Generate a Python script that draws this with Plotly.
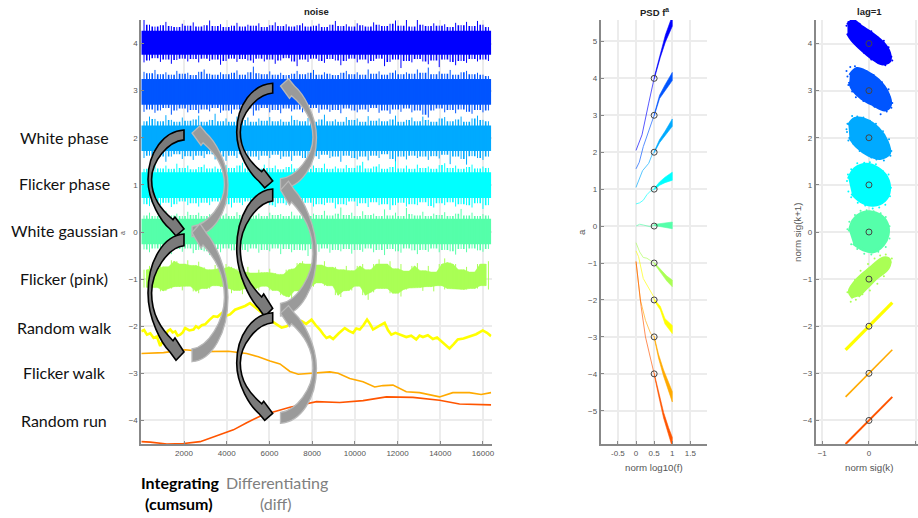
import plotly.graph_objects as go

W, H = 918, 518
level_colors = ["#0000ff", "#0055ff", "#00aaff", "#00ffff", "#55ffaa", "#aaff55", "#ffff00", "#ffaa00", "#ff5500"]
levels = [4, 3, 2, 1, 0, -1, -2, -3, -4]
time_ticks = [2000, 4000, 6000, 8000, 10000, 12000, 14000, 16000]
noise_names = ["White phase", "Flicker phase", "White gaussian", "Flicker (pink)", "Random walk", "Flicker walk", "Random run"]

# noise traces: solid core of each band and per-bin extremes
core_hi = [4.27, 3.25, 2.26, 1.27, 0.28]
core_lo = [3.76, 2.70, 1.72, 0.72, -0.26]
n4_up = [4.53,4.40,4.36,4.39,4.46,4.37,4.35,4.42,4.38,4.45,4.36,4.39,4.49,4.37,4.41,4.35,4.38,4.44,4.36,4.40,4.38,4.43,4.35,4.39,4.45,4.37,4.41,4.36,4.39,4.43,4.36,4.38,4.42,4.35,4.40,4.48,4.37,4.41,4.36,4.43,4.39,4.36,4.45,4.40,4.37,4.42,4.49,4.38,4.52,4.36,4.53,4.40,4.37,4.43,4.38,4.41,4.35,4.44,4.39,4.46,4.37,4.48,4.40,4.35]
n4_lo = [3.60,3.64,3.69,3.61,3.66,3.57,3.65,3.68,3.62,3.67,3.60,3.68,3.63,3.66,3.55,3.63,3.68,3.61,3.67,3.64,3.59,3.68,3.62,3.66,3.57,3.64,3.69,3.62,3.52,3.66,3.61,3.68,3.63,3.59,3.67,3.64,3.54,3.63,3.68,3.60,3.66,3.58,3.63,3.68,3.52,3.61,3.66,3.48,3.63,3.60,3.67,3.62,3.56,3.64,3.50,3.66,3.61,3.54,3.63,3.59,3.67,3.62,3.66,3.63]
n3_up = [3.40,3.37,3.44,3.35,3.39,3.34,3.42,3.36,3.38,3.33,3.40,3.45,3.36,3.34,3.39,3.35,3.38,3.43,3.34,3.39,3.51,3.37,3.35,3.41,3.34,3.38,3.33,3.36,3.42,3.35,3.38,3.44,3.34,3.39,3.36,3.33,3.38,3.42,3.35,3.39,3.34,3.45,3.36,3.41,3.34,3.38,3.43,3.35,3.39,3.36,3.45,3.38,3.49,3.35,3.41,3.36,3.44,3.34,3.39,3.42,3.35,3.38,3.34,3.31]
n3_lo = [2.55,2.60,2.53,2.58,2.63,2.49,2.58,2.62,2.54,2.59,2.52,2.60,2.56,2.63,2.53,2.58,2.51,2.60,2.55,2.62,2.47,2.58,2.63,2.54,2.59,2.52,2.62,2.56,2.60,2.54,2.58,2.63,2.53,2.60,2.55,2.59,2.52,2.62,2.58,2.54,2.60,2.55,2.63,2.53,2.58,2.51,2.60,2.55,2.62,2.54,2.58,2.49,2.43,2.58,2.62,2.54,2.59,2.52,2.60,2.55,2.51,2.59,2.54,2.58]
n2_up = [2.35,2.45,2.40,2.35,2.48,2.38,2.34,2.43,2.36,2.39,2.47,2.34,2.38,2.51,2.35,2.41,2.34,2.45,2.38,2.43,2.34,2.41,2.36,2.44,2.35,2.39,2.34,2.47,2.38,2.35,2.42,2.34,2.39,2.49,2.35,2.39,2.34,2.44,2.38,2.41,2.34,2.46,2.36,2.41,2.35,2.39,2.47,2.34,2.38,2.43,2.35,2.45,2.38,2.34,2.41,2.44,2.35,2.39,2.45,2.34,2.41,2.47,2.38,2.35]
n2_lo = [1.57,1.62,1.55,1.60,1.49,1.60,1.65,1.55,1.61,1.53,1.62,1.57,1.65,1.54,1.60,1.51,1.62,1.57,1.65,1.55,1.60,1.53,1.62,1.57,1.64,1.55,1.60,1.51,1.62,1.57,1.53,1.61,1.55,1.64,1.57,1.60,1.49,1.62,1.57,1.54,1.60,1.52,1.62,1.57,1.65,1.55,1.47,1.60,1.54,1.62,1.57,1.60,1.53,1.61,1.56,1.64,1.44,1.60,1.55,1.43,1.61,1.57,1.53,1.60]
n1_up = [1.34,1.39,1.43,1.35,1.41,1.34,1.45,1.36,1.41,1.33,1.38,1.43,1.35,1.39,1.34,1.42,1.36,1.41,1.47,1.35,1.39,1.34,1.43,1.36,1.41,1.33,1.38,1.44,1.35,1.39,1.34,1.41,1.36,1.45,1.34,1.39,1.35,1.42,1.36,1.41,1.49,1.35,1.39,1.44,1.34,1.38,1.50,1.35,1.41,1.34,1.43,1.36,1.39,1.34,1.42,1.46,1.36,1.41,1.34,1.38,1.43,1.35,1.39,1.36]
n1_lo = [0.59,0.55,0.63,0.57,0.62,0.53,0.59,0.65,0.57,0.61,0.54,0.62,0.57,0.65,0.55,0.59,0.52,0.62,0.57,0.65,0.55,0.59,0.63,0.57,0.53,0.61,0.57,0.65,0.55,0.59,0.62,0.54,0.59,0.57,0.62,0.50,0.59,0.57,0.65,0.55,0.61,0.53,0.63,0.57,0.59,0.47,0.57,0.62,0.54,0.59,0.57,0.63,0.55,0.52,0.61,0.57,0.63,0.54,0.59,0.57,0.52,0.61,0.49,0.57]
n0_up = [0.35,0.41,0.34,0.38,0.45,0.35,0.39,0.34,0.43,0.36,0.41,0.34,0.38,0.44,0.35,0.39,0.34,0.42,0.36,0.47,0.35,0.39,0.34,0.41,0.36,0.38,0.34,0.43,0.35,0.41,0.34,0.39,0.36,0.45,0.35,0.39,0.52,0.36,0.41,0.34,0.44,0.36,0.39,0.34,0.48,0.35,0.41,0.34,0.51,0.38,0.35,0.43,0.34,0.39,0.36,0.42,0.34,0.39,0.49,0.35,0.41,0.34,0.38,0.35]
n0_lo = [-0.37,-0.43,-0.35,-0.41,-0.38,-0.47,-0.36,-0.42,-0.35,-0.45,-0.38,-0.41,-0.49,-0.36,-0.43,-0.35,-0.39,-0.46,-0.38,-0.42,-0.35,-0.44,-0.38,-0.41,-0.35,-0.47,-0.36,-0.43,-0.38,-0.39,-0.51,-0.36,-0.42,-0.35,-0.44,-0.38,-0.41,-0.36,-0.46,-0.38,-0.42,-0.35,-0.43,-0.38,-0.49,-0.36,-0.41,-0.44,-0.35,-0.39,-0.47,-0.38,-0.42,-0.35,-0.43,-0.38,-0.41,-0.48,-0.36,-0.43,-0.35,-0.39,-0.42,-0.36]
pink_up = [-0.80,-0.72,-0.78,-0.68,-0.74,-0.60,-0.62,-0.68,-0.60,-0.71,-0.63,-0.75,-0.80,-0.70,-0.78,-0.68,-0.74,-0.78,-0.85,-0.74,-0.87,-0.80,-0.86,-0.78,-0.87,-0.90,-0.80,-0.78,-0.66,-0.62,-0.68,-0.60,-0.70,-0.62,-0.75,-0.74,-0.80,-0.72,-0.82,-0.72,-0.68,-0.80,-0.68,-0.58,-0.68,-0.62,-0.78,-0.68,-0.83,-0.72,-0.66,-0.82,-0.72,-0.85,-0.68,-0.56,-0.65,-0.68,-0.80,-0.74,-0.85,-0.68,-0.68,-0.62]
pink_lo = [-1.18,-1.24,-1.18,-1.26,-1.25,-1.20,-1.16,-1.24,-1.15,-1.26,-1.30,-1.20,-1.20,-1.14,-1.16,-1.20,-1.30,-1.24,-1.32,-1.20,-1.20,-1.24,-1.15,-1.24,-1.24,-1.34,-1.38,-1.42,-1.25,-1.26,-1.16,-1.16,-1.08,-1.14,-1.14,-1.34,-1.38,-1.25,-1.24,-1.15,-1.34,-1.44,-1.28,-1.20,-1.20,-1.30,-1.30,-1.37,-1.22,-1.19,-1.18,-1.25,-1.16,-1.26,-1.14,-1.22,-1.20,-1.21,-1.22,-1.22,-1.20,-1.20,-1.14,-1.22]
noise_up = [n4_up, n3_up, n2_up, n1_up, n0_up]
noise_lo = [n4_lo, n3_lo, n2_lo, n1_lo, n0_lo]

walk_x = [0,130,265,420,576,730,887,1000,1121,1240,1355,1470,1588,1700,1822,1940,2055,2250,2445,2560,2678,2830,2990,3180,3379,3570,3768,3960,4157,4390,4624,4860,5091,5320,5558,5750,5948,6140,6337,6570,6804,7040,7271,7500,7720,7972,8170,8361,8520,8672,8830,8984,9250,9529,9720,9918,10070,10229,10400,10572,10710,10852,11120,11397,11550,11709,11900,12098,12250,12409,12640,12876,13030,13188,13420,13655,13850,14044,14240,14433,14630,14822,15090,15367,15680,15990,16190,16380]
walk_y = [-2.11,-2.08,-2.18,-2.15,-2.25,-2.22,-2.42,-2.3,-2.21,-2.1,-2.07,-2.13,-2.11,-2.2,-2.18,-2.13,-2.04,-2.09,-2.07,-2.0,-2.04,-1.98,-1.96,-1.87,-1.79,-1.8,-1.72,-1.78,-1.75,-1.65,-1.61,-1.57,-1.51,-1.6,-1.68,-1.75,-1.82,-1.9,-1.96,-2.03,-2.0,-1.93,-1.94,-1.89,-1.95,-1.86,-1.98,-2.07,-2.17,-2.25,-2.22,-2.27,-2.15,-2.04,-2.1,-2.14,-2.05,-2.07,-1.98,-1.86,-1.95,-2.07,-2.0,-1.93,-2.08,-2.18,-2.14,-2.18,-2.2,-2.23,-2.2,-2.28,-2.2,-2.23,-2.19,-2.27,-2.24,-2.32,-2.38,-2.47,-2.38,-2.28,-2.26,-2.21,-2.17,-2.09,-2.14,-2.21]
fwalk_x = [0,1043,2055,2912,4080,4936,5481,6026,6493,6960,7349,8050,8828,9217,9762,10385,10930,11319,11786,12409,13032,13966,14589,15367,15912,16380]
fwalk_y = [-2.58,-2.56,-2.50,-2.54,-2.53,-2.58,-2.65,-2.74,-2.80,-2.96,-3.02,-2.99,-2.97,-3.0,-3.11,-3.18,-3.29,-3.26,-3.25,-3.39,-3.41,-3.50,-3.41,-3.41,-3.45,-3.41]
run_x = [0,420,1199,1978,2756,3535,4313,4936,5558,6181,6960,7583,8206,9295,10385,11475,12720,13966,14900,16380]
run_y = [-4.45,-4.46,-4.50,-4.49,-4.45,-4.33,-4.20,-4.05,-3.91,-3.82,-3.72,-3.66,-3.60,-3.62,-3.58,-3.50,-3.51,-3.57,-3.65,-3.67]

# PSD curves
psd_x = [
    [0,.165,.35,.5,.67,.81,1], [0,.09,.2,.35,.5,.65,.8,1], [0,.18,.35,.45,.5,.65,.8,1],
    [0,.1,.2,.3,.4,.5,.65,.8,1], [0,.1,.2,.3,.4,.5,.7,1], [0,.1,.2,.3,.5,.67,.85,1],
    [0,.07,.2,.48,.5,.67,.8,1], [0,.12,.26,.4,.5,.62,.76,.9,1], [0,.14,.26,.4,.5,.62,.76,.9,1]]
psd_y = [
    [2.05,2.47,3.33,4,4.63,5.08,5.55], [1.55,1.73,2.15,2.6,3,3.5,3.75,4.05], [1.05,1.5,1.7,1.95,2,2.3,2.5,2.8],
    [.6,.63,.7,.85,.95,1,1.15,1.25,1.35], [0,.05,.03,0,-.02,.03,.03,.02], [-.45,-.7,-.85,-.87,-1,-1.2,-1.42,-1.55],
    [-.67,-.83,-1.42,-1.9,-2,-2.22,-2.58,-2.8], [-.96,-2,-2.55,-2.9,-3,-3.52,-3.98,-4.35,-4.62], [-.96,-2.18,-3,-3.63,-4,-4.53,-5.12,-5.57,-5.85]]
psd_spread = [.14, .11, .10, .11, .09, .09, .11, .14, .13]

# lag=1 clouds: outline of dense region and outlying dots, relative to the level
cloud_dx = [
    [-.46,-.34,-.16,.06,.31,.44,.44,.27,.06,-.16,-.37,-.46],
    [-.41,-.26,-.05,.2,.41,.46,.34,.09,-.16,-.34,-.42],
    [-.44,-.3,-.09,.2,.39,.44,.24,-.01,-.26,-.42],
    [-.44,-.3,-.05,.2,.38,.44,.34,.09,-.16,-.37],
    [-.42,-.34,-.16,.02,.24,.39,.41,.31,.09,-.12,-.34],
    [-.34,-.42,-.23,.02,.31,.44,.41,.16,-.05,-.23]]
cloud_dy = [
    [.40,.49,.36,.22,.01,-.20,-.38,-.43,-.31,-.13,.08,.22],
    [.33,.47,.40,.23,-.06,-.30,-.41,-.30,-.16,.01,.19],
    [.27,.41,.39,.2,-.08,-.33,-.44,-.37,-.19,.02],
    [.13,.35,.44,.35,.17,-.11,-.33,-.43,-.36,-.18],
    [.01,.25,.40,.43,.36,.18,-.06,-.27,-.42,-.38,-.24],
    [-.40,-.26,.02,.23,.45,.41,.23,.02,-.19,-.37]]
dot_dx = [
    [-.48,-.44,-.38,-.28,-.2,-.1,.05,.18,.32,.42,.5,.48,.35,.2,.05,-.1,-.25,-.42],
    [-.48,-.46,-.4,-.3,-.18,-.05,.1,.28,.42,.5,.48,.38,.25,.12,-.12,-.28,-.36,-.44],
    [-.48,-.46,-.36,-.25,-.12,.02,.15,.3,.43,.48,.46,.32,.16,.05,-.2,-.34,-.44,-.47],
    [-.47,-.45,-.38,-.25,-.1,.02,.15,.3,.42,.47,.45,.35,.22,.08,-.08,-.24,-.38,-.44],
    [-.46,-.42,-.3,-.18,-.05,.1,.25,.36,.44,.44,.36,.2,.05,-.1,-.25,-.38],
    [-.39,-.46,-.36,-.3,-.18,-.02,.12,.24,.36,.49,.46,.32,.18,.02,-.14,-.28]]
dot_dy = [
    [.38,.46,.49,.52,.42,.33,.26,.14,.06,-.08,-.36,-.28,-.46,-.4,-.34,-.2,-.05,.28],
    [.42,.30,.50,.52,.46,.41,.33,.18,.03,-.26,-.36,-.44,-.5,-.34,-.22,-.14,-.02,.12],
    [.18,.3,.46,.45,.43,.36,.3,.14,-.03,-.28,-.38,-.48,-.46,-.42,-.28,-.12,-.06,.12],
    [.08,.22,.33,.46,.47,.48,.44,.29,.22,-.06,-.24,-.42,-.48,-.5,-.44,-.38,-.26,-.14],
    [.06,.22,.36,.45,.46,.44,.4,.32,.12,-.14,-.32,-.42,-.48,-.46,-.36,-.26],
    [-.48,-.28,-.14,-.02,.18,.32,.44,.5,.52,.44,.36,.06,-.1,-.24,-.32,-.44]]
line_dx = [-.5, .5]
line_dy = [-.5, .5]
line_widths = [3.2, 1.6, 2]


def px(x):
    return x / W


def py(y):
    return 1 - y / H


def spikes(up, lo):
    """Vertical extremes per bin, plus the short fuzz that sits between two neighbouring bins."""
    sx, sy, fx, fy = [], [], [], []
    for k in range(len(up)):
        x0 = 128 + 256 * k
        sx += [x0, x0, None]
        sy += [lo[k], up[k], None]
        if k + 1 < len(up):
            fx += [x0 + 128, x0 + 128, None]
            fy += [max(lo[k], lo[k + 1]), min(up[k], up[k + 1]), None]
    return sx, sy, fx, fy


fig = go.Figure()

# panel 1: noise bands
for i in range(5):
    c = level_colors[i]
    fig.add_trace(go.Scatter(x=[0, 16384, 16384, 0], y=[core_hi[i], core_hi[i], core_lo[i], core_lo[i]],
                             fill="toself", fillcolor=c, mode="lines", line=dict(color=c, width=0),
                             xaxis="x", yaxis="y", hoverinfo="skip", showlegend=False))
    sx, sy, fx, fy = spikes(noise_up[i], noise_lo[i])
    fig.add_trace(go.Scatter(x=sx, y=sy, mode="lines", line=dict(color=c, width=1), xaxis="x", yaxis="y", showlegend=False))
    fig.add_trace(go.Scatter(x=fx, y=fy, mode="lines", line=dict(color=c, width=1.6), xaxis="x", yaxis="y", showlegend=False))
c = level_colors[5]
sx, sy, fx, fy = spikes(pink_up, pink_lo)
inner_x = fx[0::3] + fx[0::3][::-1]
inner_y = fy[1::3] + fy[0::3][::-1]
fig.add_trace(go.Scatter(x=inner_x, y=inner_y, fill="toself", fillcolor=c, mode="lines", line=dict(color=c, width=0.5),
                         xaxis="x", yaxis="y", showlegend=False))
fig.add_trace(go.Scatter(x=sx, y=sy, mode="lines", line=dict(color=c, width=1), xaxis="x", yaxis="y", showlegend=False))
fig.add_trace(go.Scatter(x=fx, y=fy, mode="lines", line=dict(color=c, width=1.6), xaxis="x", yaxis="y", showlegend=False))
for xv, yv, c, w in [(walk_x, walk_y, level_colors[6], 2.6), (fwalk_x, fwalk_y, level_colors[7], 1.6), (run_x, run_y, level_colors[8], 1.6)]:
    fig.add_trace(go.Scatter(x=xv, y=yv, mode="lines", line=dict(color=c, width=w), xaxis="x", yaxis="y", showlegend=False))

# panel 2: PSD
for i in range(9):
    c = level_colors[i]
    xv, yv = psd_x[i], psd_y[i]
    m = xv.index(.5)
    fig.add_trace(go.Scatter(x=xv[:m + 1], y=yv[:m + 1], mode="lines", line=dict(color=c, width=1), opacity=.65,
                             xaxis="x2", yaxis="y2", showlegend=False))
    s = psd_spread[i]
    bx = xv[m:] + xv[m:][::-1]
    by_up = [v + s * (u - .4) / .6 for u, v in zip(xv[m:], yv[m:])]
    by_lo = [v - s * (u - .4) / .6 for u, v in zip(xv[m:], yv[m:])]
    fig.add_trace(go.Scatter(x=bx, y=by_up + by_lo[::-1], fill="toself", fillcolor=c, mode="lines",
                             line=dict(color=c, width=.6), xaxis="x2", yaxis="y2", showlegend=False))
fig.add_trace(go.Scatter(x=[.5] * 9, y=levels, mode="markers",
                         marker=dict(size=6, color="rgba(0,0,0,0)", line=dict(color="#444444", width=1)),
                         xaxis="x2", yaxis="y2", showlegend=False))

# panel 3: lag plots
for i in range(6):
    c = level_colors[i]
    a = levels[i]
    fig.add_trace(go.Scatter(x=cloud_dx[i], y=[a + d for d in cloud_dy[i]], fill="toself", fillcolor=c, mode="lines",
                             line=dict(color=c, width=3, shape="spline"), xaxis="x3", yaxis="y3", showlegend=False))
    fig.add_trace(go.Scatter(x=dot_dx[i], y=[a + d for d in dot_dy[i]], mode="markers",
                             marker=dict(size=2, color=c), xaxis="x3", yaxis="y3", showlegend=False))
for i in range(3):
    a = levels[6 + i]
    fig.add_trace(go.Scatter(x=line_dx, y=[a + d for d in line_dy], mode="lines",
                             line=dict(color=level_colors[6 + i], width=line_widths[i]), xaxis="x3", yaxis="y3", showlegend=False))
fig.add_trace(go.Scatter(x=[0] * 9, y=levels, mode="markers",
                         marker=dict(size=6, color="rgba(0,0,0,0)", line=dict(color="#444444", width=1)),
                         xaxis="x3", yaxis="y3", showlegend=False))


def arrow_points(tx, y0, H_, bulge, flip):
    """Crescent block arrow; u = distance from the tip column, v = fraction along the height."""
    def P(u, v):
        if flip:
            return f"{px(tx + u):.5f},{py(y0 - v * H_):.5f}"
        return f"{px(tx - u):.5f},{py(y0 + v * H_):.5f}"
    b = bulge
    return " ".join([
        "M", P(0, 0),
        "C", P(b * .55, .01), P(b, .22), P(b, .5),
        "C", P(b, .72), P(b * .62, .93), P(14, 1.0),
        "L", P(8, 1.07), "L", P(0, 1), "L", P(9, .88), "L", P(11, .905),
        "C", P(b * .65, .8), P(b * .9, .68), P(b * .9, .5),
        "C", P(b * .9, .32), P(b * .45, .115), P(0, .10),
        "Z"])


black_arrows = [(184, 130, 99), (184, 234, 118), (272.7, 83.3, 97.7), (272.7, 189, 119.3), (272.7, 312.7, 100.6)]
gray_arrows = [(192, 236.7, 103.7), (192, 361.7, 129), (280.5, 189, 103), (280.5, 316, 126), (280.5, 423.3, 110)]
shapes = []
for tx, y0, h_ in black_arrows:
    shapes.append(dict(type="path", xref="paper", yref="paper", path=arrow_points(tx, y0, h_, 36, False),
                       fillcolor="#7a7a7a", line=dict(color="#000000", width=1.6), layer="above"))
for tx, y0, h_ in gray_arrows:
    shapes.append(dict(type="path", xref="paper", yref="paper", path=arrow_points(tx, y0, h_, 36, True),
                       fillcolor="#9a9a9a", line=dict(color="#b8b8b8", width=1.3), layer="above"))

AX = dict(showgrid=True, gridcolor="#ececec", gridwidth=1.5, zeroline=False, showline=True, linecolor="#888888", linewidth=1.8,
          ticks="inside", ticklen=3, tickcolor="#888888", tickfont=dict(family="Liberation Sans", size=8, color="#555555"))
y_dom = [py(444), py(20)]
fig.update_layout(
    width=W, height=H, margin=dict(l=0, r=0, t=0, b=0, autoexpand=False), paper_bgcolor="white", plot_bgcolor="white", showlegend=False,
    xaxis=dict(AX, domain=[px(141.3), px(491.5)], range=[0, 16400], tickvals=time_ticks, tickformat="d", anchor="y"),
    yaxis=dict(AX, domain=y_dom, range=[-4.5, 4.5], tickvals=levels, anchor="x"),
    xaxis2=dict(AX, domain=[px(600.7), px(706.7)], range=[-.975, 1.95], tickvals=[-.5, 0, .5, 1, 1.5], ticktext=["-0.5", "0", "0.5", "1", "1.5"], anchor="y2"),
    yaxis2=dict(AX, domain=y_dom, range=[-5.9, 5.58], tickvals=[5, 4, 3, 2, 1, 0, -1, -2, -3, -4, -5], anchor="x2"),
    xaxis3=dict(AX, domain=[px(815.7), 1], range=[-1.14, 1.05], tickvals=[-1, 0, 1], anchor="y3"),
    yaxis3=dict(AX, domain=y_dom, range=[-4.5, 4.5], tickvals=levels, anchor="x3"),
    shapes=shapes,
)


def note(x, y, text, size, color="#404040", family="Liberation Sans", angle=0, bold=False):
    fig.add_annotation(xref="paper", yref="paper", x=px(x), y=py(y), text=f"<b>{text}</b>" if bold else text, showarrow=False,
                       xanchor="center", yanchor="middle", textangle=angle,
                       font=dict(family=family, size=size, color=color))


note(316, 12, "noise", 9.5, "#222222", bold=True)
note(654, 12, "PSD f<sup>a</sup>", 9.5, "#222222", bold=True)
note(869, 12, "lag=1", 9.5, "#222222", bold=True)
note(122, 233, "a", 7, "#555555", angle=-90)
note(581, 232, "a", 9.7, "#555555", angle=-90)
note(654, 467, "norm log10(f)", 9.7, "#555555")
note(869, 467, "norm sig(k)", 9.7, "#555555")
note(797, 232, "norm sig(k+1)", 9.7, "#555555", angle=-90)
for name, y_ in zip(noise_names, [137, 184, 230, 278, 327, 372, 420]):
    note(64, y_, name, 16, "#111111", family="Lato")
note(180, 482, "Integrating", 16, "#000000", family="Lato", bold=True)
note(179, 503, "(cumsum)", 16, "#000000", family="Lato", bold=True)
note(277, 482, "Differentiating", 16, "#808080", family="Lato")
note(276, 503, "(diff)", 16, "#808080", family="Lato")

fig.write_html("out.html", post_script="document.body.style.margin='0';", config={"displayModeBar": False})
